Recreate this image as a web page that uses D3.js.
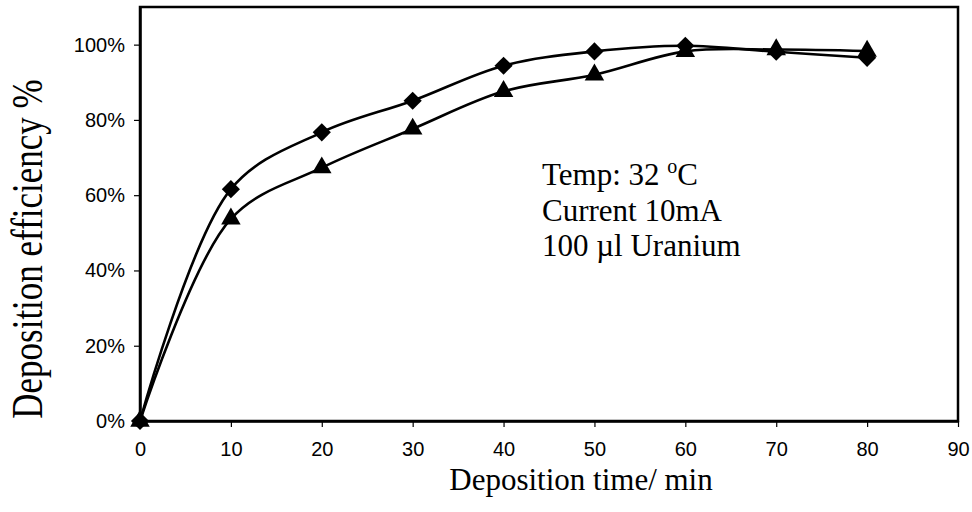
<!DOCTYPE html>
<html>
<head>
<meta charset="utf-8">
<script src="https://cdn.jsdelivr.net/npm/d3@7"></script>
<style>
html,body{margin:0;padding:0;background:#fff;}
svg{display:block;}
</style>
</head>
<body>
<svg id="chart" width="972" height="512"></svg>
<script>
// ---- data ----
const times = [0, 10, 20, 30, 40, 50, 60, 70, 80];
const diamondSeries = [0, 0.616, 0.767, 0.851, 0.944, 0.982, 0.997, 0.981, 0.965];
const triangleSeries = [0, 0.537, 0.673, 0.776, 0.876, 0.920, 0.982, 0.987, 0.983];
const xTicks = [0, 10, 20, 30, 40, 50, 60, 70, 80, 90];
const yTicks = [0, 0.2, 0.4, 0.6, 0.8, 1.0];
const xTitle = "Deposition time/ min";
const yTitle = "Deposition efficiency %";
const noteLines = ["Temp: 32 ", "Current 10mA", "100 µl Uranium"];

// ---- layout ----
const svg = d3.select("#chart");
const L = 140, R = 958, T = 7, B = 421;
const x = d3.scaleLinear().domain([0, 90]).range([L, R]);
const y = d3.scaleLinear().domain([0, 1.1]).range([B, T]);

// frame
svg.append("rect").attr("x", L).attr("y", T).attr("width", R - L).attr("height", B - T)
  .attr("fill", "none").attr("stroke", "#000").attr("stroke-width", 2.5);

// axes
const xAxis = d3.axisBottom(x).tickValues(xTicks).tickSize(6).tickSizeOuter(0).tickPadding(15)
  .tickFormat(d3.format("d"));
const gx = svg.append("g").attr("transform", `translate(0,${B})`).call(xAxis);
gx.select(".domain").attr("stroke-width", 2.5);
gx.selectAll(".tick line").attr("stroke-width", 1.2);
gx.selectAll("text").attr("font-family", "Liberation Sans, Arial, sans-serif")
  .attr("font-size", 20).attr("fill", "#000");

const yAxis = d3.axisLeft(y).tickValues(yTicks).tickSize(6).tickSizeOuter(0).tickPadding(9)
  .tickFormat(d3.format(".0%"));
const gy = svg.append("g").attr("transform", `translate(${L},0)`).call(yAxis);
gy.select(".domain").attr("stroke-width", 2.5);
gy.selectAll(".tick line").attr("stroke-width", 1.2);
gy.selectAll("text").attr("font-family", "Liberation Sans, Arial, sans-serif")
  .attr("font-size", 20).attr("fill", "#000");

// lines
const line = d3.line().x((d, i) => x(times[i])).y(d => y(d)).curve(d3.curveCatmullRom.alpha(0.5));
[diamondSeries, triangleSeries].forEach(s => {
  svg.append("path").datum(s).attr("d", line).attr("fill", "none")
    .attr("stroke", "#000").attr("stroke-width", 2.6);
});

// markers
const square = d3.symbol().type(d3.symbolSquare).size(165);
const triangle = d3.symbol().type(d3.symbolTriangle).size(165);
svg.append("g").selectAll("path").data(triangleSeries).join("path")
  .attr("d", triangle).attr("fill", "#000")
  .attr("transform", (d, i) => `translate(${x(times[i])},${y(d)})`);
svg.append("g").selectAll("path").data(diamondSeries).join("path")
  .attr("d", square).attr("fill", "#000")
  .attr("transform", (d, i) => `translate(${x(times[i])},${y(d)}) rotate(45)`);

// titles
svg.append("text").attr("x", 581).attr("y", 490).attr("text-anchor", "middle")
  .attr("font-family", "Liberation Serif, Times New Roman, serif").attr("font-size", 31)
  .attr("fill", "#000").text(xTitle);
svg.append("text").attr("transform", "translate(42,249) scale(1.25,1) rotate(-90)")
  .attr("text-anchor", "middle")
  .attr("font-family", "Liberation Serif, Times New Roman, serif").attr("font-size", 35)
  .attr("fill", "#000").text(yTitle);

// annotation
const note = svg.append("g").attr("font-family", "Liberation Serif, Times New Roman, serif")
  .attr("font-size", 31).attr("fill", "#000");
const t1 = note.append("text").attr("x", 542).attr("y", 185);
t1.append("tspan").text(noteLines[0]);
t1.append("tspan").attr("font-size", 20).attr("dy", -12).text("o");
t1.append("tspan").attr("dy", 12).text("C");
note.append("text").attr("x", 542).attr("y", 221).text(noteLines[1]);
note.append("text").attr("x", 542).attr("y", 256).text(noteLines[2]);
</script>
</body>
</html>
